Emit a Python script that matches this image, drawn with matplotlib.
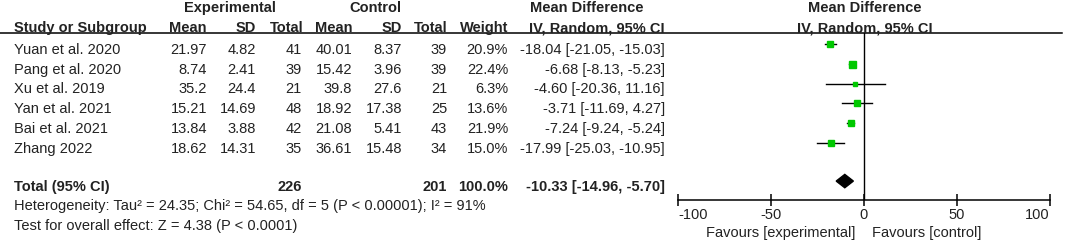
import matplotlib.pyplot as plt
import matplotlib.transforms as mtransforms
import numpy as np

plt.rcParams['font.family'] = ['Liberation Sans', 'DejaVu Sans']

# Study data
studies = ['Yuan et al. 2020', 'Pang et al. 2020', 'Xu et al. 2019',
           'Yan et al. 2021', 'Bai et al. 2021', 'Zhang 2022']
exp_mean = ['21.97', '8.74', '35.2', '15.21', '13.84', '18.62']
exp_sd = ['4.82', '2.41', '24.4', '14.69', '3.88', '14.31']
exp_n = [41, 39, 21, 48, 42, 35]
ctl_mean = ['40.01', '15.42', '39.8', '18.92', '21.08', '36.61']
ctl_sd = ['8.37', '3.96', '27.6', '17.38', '5.41', '15.48']
ctl_n = [39, 39, 21, 25, 43, 34]
weight = [20.9, 22.4, 6.3, 13.6, 21.9, 15.0]
md = [-18.04, -6.68, -4.60, -3.71, -7.24, -17.99]
lo = [-21.05, -8.13, -20.36, -11.69, -9.24, -25.03]
hi = [-15.03, -5.23, 11.16, 4.27, -5.24, -10.95]

total_md, total_lo, total_hi = -10.33, -14.96, -5.70
total_weight = '100.0%'
heterogeneity = 'Heterogeneity: Tau² = 24.35; Chi² = 54.65, df = 5 (P < 0.00001); I² = 91%'
overall = 'Test for overall effect: Z = 4.38 (P < 0.0001)'
xticks = [-100, -50, 0, 50, 100]

W, H = 1065, 243
TXT = '#222222'
FS = 10.5

fig = plt.figure(figsize=(W / 100, H / 100), dpi=100)

def fx(px):
    return px / W

def fy(py):
    return 1 - py / H

# forest plot axes: x from -100 to 100, rows from top
ax = fig.add_axes([fx(678), fy(200), fx(1050) - fx(678), fy(33) - fy(200)])
ax.set_xlim(-100, 100)
ax.set_ylim(7.90, -0.574)
for s in ['top', 'left', 'right']:
    ax.spines[s].set_visible(False)
ax.spines['bottom'].set_linewidth(1.1)
ax.set_yticks([])
ax.set_xticks(xticks)
ax.set_xticklabels([str(t) for t in xticks], fontsize=FS, color=TXT)
ax.tick_params(axis='x', direction='inout', length=8, width=1.1, pad=2)
labels = ax.get_xticklabels()
labels[0].set_horizontalalignment('left')
labels[-1].set_horizontalalignment('right')
ax.axvline(0, color='black', lw=1)
ax.patch.set_visible(False)

rows = np.arange(len(studies))
total_row = 6.94
sizes = 5.04 * np.sqrt(np.array(weight) / 22.4)
for i in rows:
    ax.plot([lo[i], hi[i]], [i, i], color='black', lw=1)
    ax.plot(md[i], i, marker='s', ms=sizes[i], color='#00c800', mec='#00c800')
dh = 0.34
ax.fill([total_lo, total_md, total_hi, total_md],
        [total_row, total_row - dh, total_row, total_row + dh], color='black')

# top rule across the whole table
fig.add_artist(plt.Line2D([fx(0), fx(1062)], [fy(33), fy(33)], color='black', lw=1.1))

tr = mtransforms.blended_transform_factory(fig.transFigure, ax.transData)
off = 0.49

def put(px, row, s, ha='right', bold=False):
    fig.text(fx(px), row + off, s, transform=tr, ha=ha, va='baseline',
             fontsize=FS, color=TXT, fontweight='bold' if bold else 'normal')

def put_px(px, py, s, ha='center', bold=False):
    fig.text(fx(px), fy(py), s, ha=ha, va='baseline', fontsize=FS,
             color=TXT, fontweight='bold' if bold else 'normal')

# headers
put_px(230, 12, 'Experimental', bold=True)
put_px(375, 12, 'Control', bold=True)
put_px(587, 12, 'Mean Difference', bold=True)
put_px(865, 12, 'Mean Difference', bold=True)
put_px(14, 32, 'Study or Subgroup', ha='left', bold=True)
put_px(207, 32, 'Mean', ha='right', bold=True)
put_px(256, 32, 'SD', ha='right', bold=True)
put_px(304, 32, 'Total', ha='right', bold=True)
put_px(352, 32, 'Mean', ha='right', bold=True)
put_px(402, 32, 'SD', ha='right', bold=True)
put_px(448, 32, 'Total', ha='right', bold=True)
put_px(508, 32, 'Weight', ha='right', bold=True)
put_px(665, 32, 'IV, Random, 95% CI', ha='right', bold=True)
put_px(865, 32, 'IV, Random, 95% CI', bold=True)

# study rows
for i in rows:
    put(14, i, studies[i], ha='left')
    put(207, i, exp_mean[i])
    put(256, i, exp_sd[i])
    put(302, i, str(exp_n[i]))
    put(352, i, ctl_mean[i])
    put(402, i, ctl_sd[i])
    put(447, i, str(ctl_n[i]))
    put(508, i, f'{weight[i]:.1f}%')
    put(665, i, f'{md[i]:.2f} [{lo[i]:.2f}, {hi[i]:.2f}]')

# total row
put(14, total_row, 'Total (95% CI)', ha='left', bold=True)
put(302, total_row, str(sum(exp_n)), bold=True)
put(447, total_row, str(sum(ctl_n)), bold=True)
put(508, total_row, total_weight, bold=True)
put(665, total_row, f'{total_md:.2f} [{total_lo:.2f}, {total_hi:.2f}]', bold=True)

put_px(14, 210, heterogeneity, ha='left')
put_px(14, 230, overall, ha='left')

# favours labels under the axis
fig.text(fx(855), fy(237), 'Favours [experimental]', ha='right', va='baseline',
         fontsize=FS, color=TXT)
fig.text(fx(872), fy(237), 'Favours [control]', ha='left', va='baseline',
         fontsize=FS, color=TXT)

fig.savefig('out.png', dpi=100)
